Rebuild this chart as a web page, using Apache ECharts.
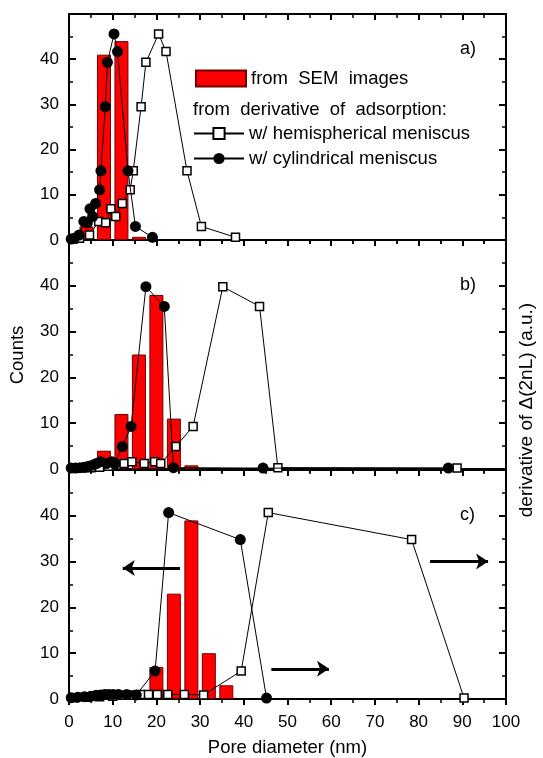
<!DOCTYPE html>
<html>
<head>
<meta charset="utf-8">
<script src="https://cdn.jsdelivr.net/npm/echarts@6/dist/echarts.min.js"></script>
<style>
  html, body { margin: 0; padding: 0; background: #fff; }
  #chart { width: 543px; height: 758px; }
</style>
</head>
<body>
<div id="chart"></div>
<script>
// SEM histogram: [bin centre (nm), counts]
const semA = [[4, 3], [8, 41], [12, 44], [16, 0.7]];
const semB = [[8, 4], [12, 12], [16, 25], [20, 38], [24, 11], [28, 0.8]];
const semC = [[20, 7], [24, 23], [28, 39], [32, 10], [36, 3]];

// derivative of adsorption, hemispherical meniscus
const hemiA = [[1.0, 0.2], [2.4, 0.4], [4.7, 1.1], [6.8, 4.1], [8.4, 3.8], [9.6, 6.9], [10.7, 5.2], [12.2, 8.1],
  [14.0, 11.1], [14.7, 15.3], [16.5, 29.5], [17.6, 39.3], [20.5, 45.6], [22.2, 41.7], [27.0, 15.3], [30.3, 3.0], [38.1, 0.6]];
const hemiB = [[1.0, 0.2], [3.0, 0.2], [5.0, 0.3], [7.0, 0.4], [9.0, 0.6], [11.0, 0.9], [12.6, 1.2], [14.4, 1.6],
  [17.2, 1.2], [19.6, 1.6], [21.0, 1.2], [24.4, 4.9], [28.4, 9.3], [35.2, 39.8], [43.6, 35.5], [47.8, 0.3], [88.8, 0.2]];
const hemiC = [[1.0, 0.3], [4.0, 0.4], [7.0, 0.5], [10.0, 0.6], [12.4, 0.8], [14.6, 0.9], [16.4, 1.0], [18.2, 1.0],
  [20.2, 1.0], [22.6, 1.0], [26.4, 1.0], [30.8, 0.9], [39.4, 6.1], [45.6, 40.7], [78.4, 34.8], [90.4, 0.2]];

// derivative of adsorption, cylindrical meniscus
const cylA = [[0.5, 0.2], [1.2, 0.4], [2.3, 1.1], [3.4, 4.1], [4.2, 3.8], [4.8, 6.9], [5.4, 5.2], [6.1, 8.1],
  [7.0, 11.1], [7.3, 15.3], [8.3, 29.5], [8.8, 39.3], [10.3, 45.6], [11.1, 41.7], [13.5, 15.3], [15.2, 3.0], [19.1, 0.6]];
const cylB = [[0.5, 0.2], [1.5, 0.2], [2.5, 0.3], [3.5, 0.4], [4.5, 0.6], [5.5, 0.9], [6.3, 1.2], [7.2, 1.6],
  [8.6, 1.2], [9.8, 1.6], [10.5, 1.2], [12.2, 4.9], [14.2, 9.3], [17.6, 39.8], [21.8, 35.5], [23.9, 0.3], [44.4, 0.2], [86.8, 0.2]];
const cylC = [[0.5, 0.3], [2.0, 0.4], [3.5, 0.5], [5.0, 0.6], [6.2, 0.8], [7.3, 0.9], [8.2, 1.0], [9.1, 1.0],
  [10.1, 1.0], [11.3, 1.0], [13.2, 1.0], [15.4, 0.9], [19.7, 6.1], [22.8, 40.7], [39.2, 34.8], [45.2, 0.2]];

// arrows in panel c: [x from, x to, y]
const arrowsC = [[25.4, 12.3, 28.6], [46.3, 59.5, 6.6], [82.6, 95.9, 30.0]];

const panelNames = ['a)', 'b)', 'c)'];
const semData = [semA, semB, semC];
const hemiData = [hemiA, hemiB, hemiC];
const cylData = [cylA, cylB, cylC];

const FONT = '"Liberation Sans", Arial, Helvetica, sans-serif';
const black = '#000';

const grids = [
  { left: 69, right: 37, top: 14, height: 226 },
  { left: 69, right: 37, top: 240, height: 229 },
  { left: 69, right: 37, top: 470, height: 229 }
];

const xAxes = [];
const yAxes = [];
const series = [];

for (let i = 0; i < 3; i++) {
  // bottom x axis
  xAxes.push({
    gridIndex: i, type: 'value', min: 0, max: 100, interval: 10, position: 'bottom',
    axisLine: { show: true, onZero: false, lineStyle: { color: black, width: 2 } },
    axisTick: { show: true, inside: false, length: 6, lineStyle: { color: black, width: 2 } },
    minorTick: { show: true, splitNumber: 2, length: 4, lineStyle: { color: black, width: 1.5 } },
    splitLine: { show: false },
    axisLabel: { show: i === 2, color: black, fontSize: 17, fontFamily: FONT, margin: 15 },
    name: i === 2 ? 'Pore diameter (nm)' : '',
    nameLocation: 'middle', nameGap: 39,
    nameTextStyle: { color: black, fontSize: 18.5, fontFamily: FONT }
  });
  // top x axis
  xAxes.push({
    gridIndex: i, type: 'value', min: 0, max: 100, interval: 10, position: 'top',
    axisLine: { show: true, onZero: false, lineStyle: { color: black, width: 2 } },
    axisTick: { show: true, inside: true, length: 6, lineStyle: { color: black, width: 2 } },
    minorTick: { show: true, splitNumber: 2, length: 4, lineStyle: { color: black, width: 1.5 } },
    splitLine: { show: false },
    axisLabel: { show: false }
  });
  // left y axis
  yAxes.push({
    gridIndex: i, type: 'value', min: 0, max: 50, interval: 10, position: 'left',
    axisLine: { show: true, onZero: false, lineStyle: { color: black, width: 2 } },
    axisTick: { show: true, inside: true, length: 7, lineStyle: { color: black, width: 2 } },
    minorTick: { show: true, splitNumber: 2, length: 4, lineStyle: { color: black, width: 1.5 } },
    splitLine: { show: false },
    axisLabel: { color: black, fontSize: 17, fontFamily: FONT, margin: 10, showMaxLabel: false }
  });
  // right y axis (derivative scale, no labels)
  yAxes.push({
    gridIndex: i, type: 'value', min: 0, max: 50, interval: 10, position: 'right',
    axisLine: { show: true, onZero: false, lineStyle: { color: black, width: 2 } },
    axisTick: { show: true, inside: true, length: 7, lineStyle: { color: black, width: 2 } },
    minorTick: { show: true, splitNumber: 2, length: 4, lineStyle: { color: black, width: 1.5 } },
    splitLine: { show: false },
    axisLabel: { show: false }
  });

  const bar = {
    name: 'from SEM images', type: 'bar', xAxisIndex: 2 * i, yAxisIndex: 2 * i,
    data: semData[i], barWidth: 14, z: 2,
    itemStyle: { color: '#ff0000', borderColor: '#700000', borderWidth: 1 }
  };
  if (i === 2) {
    bar.markLine = {
      silent: true, symbol: ['none', 'arrow'], symbolSize: 12,
      label: { show: false },
      lineStyle: { color: black, width: 3, type: 'solid' },
      data: arrowsC.map(a => [{ coord: [a[0], a[2]] }, { coord: [a[1], a[2]] }])
    };
  }
  series.push(bar);

  series.push({
    name: 'w/ hemispherical meniscus', type: 'line', xAxisIndex: 2 * i, yAxisIndex: 2 * i,
    data: hemiData[i], symbol: 'rect', symbolSize: 8, z: 3,
    lineStyle: { color: black, width: 1 },
    itemStyle: { color: '#fff', borderColor: black, borderWidth: 1.5 }
  });
  series.push({
    name: 'w/ cylindrical meniscus', type: 'line', xAxisIndex: 2 * i, yAxisIndex: 2 * i,
    data: cylData[i], symbol: 'circle', symbolSize: 11, z: 4,
    lineStyle: { color: black, width: 1 },
    itemStyle: { color: black }
  });
}

const graphics = [
  { type: 'text', left: 193, top: 100, style: { text: 'from  derivative  of  adsorption:', fill: black, font: '18.5px ' + FONT } },
  {
    type: 'text', x: 18, y: 355, rotation: Math.PI / 2,
    style: { text: 'Counts', fill: black, font: '18.5px ' + FONT, textAlign: 'center', textVerticalAlign: 'middle' }
  },
  {
    type: 'text', x: 527, y: 410, rotation: Math.PI / 2,
    style: { text: 'derivative of \u0394(2nL) (a.u.)', fill: black, font: '19px ' + FONT, textAlign: 'center', textVerticalAlign: 'middle' }
  }
];
const labelTops = [40, 276, 506];
panelNames.forEach((t, i) => {
  graphics.push({ type: 'text', left: 460, top: labelTops[i], style: { text: t, fill: black, font: '18px ' + FONT } });
});

const chart = echarts.init(document.getElementById('chart'));
chart.setOption({
  animation: false,
  backgroundColor: '#fff',
  grid: grids,
  xAxis: xAxes,
  yAxis: yAxes,
  legend: [
    {
      data: ['from SEM images'], formatter: () => 'from  SEM  images',
      left: 195, top: 69, padding: 0, icon: 'rect',
      itemWidth: 50, itemHeight: 16, selectedMode: false,
      textStyle: { color: black, fontSize: 18.5, fontFamily: FONT }
    },
    {
      data: ['w/ hemispherical meniscus', 'w/ cylindrical meniscus'], orient: 'vertical',
      left: 193, top: 124, padding: 0, itemWidth: 50, itemHeight: 14, itemGap: 6, selectedMode: false,
      textStyle: { color: black, fontSize: 18.5, fontFamily: FONT }
    }
  ],
  graphic: graphics,
  series: series
});
</script>
</body>
</html>
